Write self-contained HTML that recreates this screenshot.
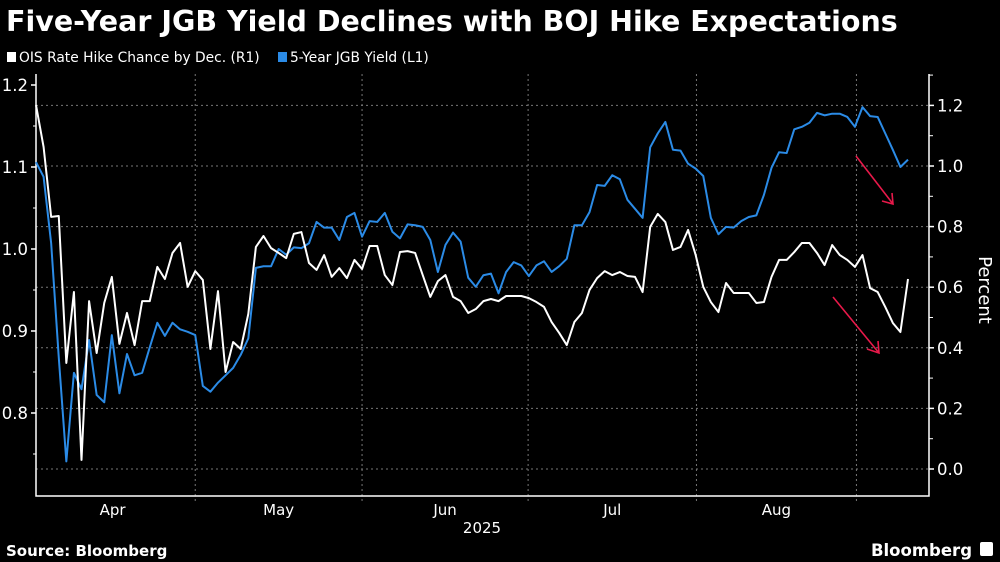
<!DOCTYPE html>
<html><head><meta charset="utf-8">
<style>
html,body{margin:0;padding:0;background:#000;}
body{width:1000px;height:562px;overflow:hidden;font-family:"Liberation Sans","DejaVu Sans",sans-serif;}
svg{display:block;}
svg text{font-family:"DejaVu Sans","Liberation Sans",sans-serif;}
</style></head>
<body>
<svg id="chart" width="1000" height="562" viewBox="0 0 1000 562" xmlns="http://www.w3.org/2000/svg">
<text x="6" y="31" fill="#fff" font-size="28.5" font-weight="bold">Five-Year JGB Yield Declines with BOJ Hike Expectations</text>
<g>
<rect x="7" y="52" width="9" height="10" fill="#fff"/>
<text x="19" y="62" fill="#fff" font-size="13.8">OIS Rate Hike Chance by Dec. (R1)</text>
<rect x="278" y="52" width="9" height="10" fill="#2b8be6"/>
<text x="290" y="62" fill="#fff" font-size="13.8">5-Year JGB Yield (L1)</text>
</g>
<g id="grid"></g>
<g id="axes"></g>
<g id="series"></g>
<text x="482" y="533" fill="#fff" font-size="15" text-anchor="middle">2025</text>
<text transform="translate(979,290) rotate(90)" fill="#fff" font-size="18" text-anchor="middle">Percent</text>
<text x="6" y="556" fill="#fff" font-size="15" font-weight="bold">Source: Bloomberg</text>
<text x="972" y="556" fill="#fff" font-size="16.5" font-weight="bold" text-anchor="end">Bloomberg</text>
<rect x="980" y="542" width="13" height="14" rx="2" fill="#fff"/>
<g stroke="#e8194a" stroke-width="1.6" fill="none">
<line x1="856" y1="156" x2="893" y2="204"/><polyline points="882,201 893,204 892,193"/>
</g>
<g stroke="#e8194a" stroke-width="1.6" fill="none">
<line x1="833" y1="297" x2="879" y2="353"/><polyline points="867,349 879,353 878,341"/>
</g>
</svg>
<script>
const months = ["Apr","May","Jun","Jul","Aug"];
const monthStartIdx = [-0.8, 21, 43, 64.9, 87.1, 108.2];
const leftTicks = [0.8, 0.9, 1.0, 1.1, 1.2];
const rightTicks = [0.0, 0.2, 0.4, 0.6, 0.8, 1.0, 1.2];
const jgbYield = [1.106,1.088,1.007,0.868,0.741,0.849,0.829,0.889,0.822,0.813,0.895,0.824,0.872,0.846,0.849,0.880,0.910,0.894,0.910,0.902,0.899,0.895,0.833,0.826,0.837,0.846,0.855,0.871,0.891,0.977,0.979,0.979,1.000,0.993,1.002,1.001,1.007,1.033,1.026,1.026,1.011,1.039,1.044,1.015,1.034,1.033,1.044,1.021,1.013,1.030,1.029,1.027,1.011,0.972,1.005,1.020,1.009,0.965,0.954,0.968,0.970,0.946,0.972,0.984,0.980,0.967,0.980,0.985,0.972,0.979,0.988,1.029,1.029,1.045,1.078,1.077,1.090,1.085,1.060,1.049,1.038,1.124,1.141,1.155,1.121,1.120,1.104,1.098,1.089,1.038,1.018,1.027,1.026,1.034,1.039,1.041,1.066,1.099,1.118,1.117,1.146,1.149,1.154,1.166,1.163,1.165,1.165,1.161,1.149,1.173,1.162,1.161,1.141,1.121,1.100,1.109];
const oisChance = [1.201,1.063,0.832,0.835,0.350,0.584,0.030,0.554,0.383,0.548,0.634,0.413,0.515,0.409,0.554,0.554,0.667,0.627,0.713,0.746,0.601,0.653,0.624,0.396,0.587,0.320,0.419,0.396,0.512,0.733,0.769,0.729,0.713,0.696,0.776,0.782,0.680,0.657,0.706,0.634,0.663,0.630,0.690,0.660,0.736,0.736,0.640,0.607,0.716,0.719,0.713,0.640,0.568,0.620,0.640,0.568,0.554,0.515,0.528,0.554,0.561,0.554,0.571,0.571,0.571,0.564,0.551,0.535,0.485,0.449,0.409,0.485,0.515,0.591,0.630,0.653,0.640,0.650,0.637,0.634,0.584,0.799,0.842,0.815,0.723,0.733,0.789,0.706,0.601,0.551,0.518,0.614,0.581,0.581,0.581,0.548,0.551,0.634,0.690,0.690,0.716,0.746,0.746,0.713,0.673,0.739,0.706,0.690,0.667,0.706,0.597,0.584,0.535,0.482,0.452,0.627];

const NS='http://www.w3.org/2000/svg';
const X0=36, X1=929, Y0=74, Y1=496;
const nPts = jgbYield.length;
function xScale(i){ return 36 + i*(872/(nPts-1)); }
function yLeft(v){ return 249 - (v-1.0)*820; }
function yRight(v){ return 469 - v*303; }
function mk(tag, attrs, parent){ const e=document.createElementNS(NS,tag); for(const k in attrs) e.setAttribute(k,attrs[k]); parent.appendChild(e); return e; }
const grid=document.getElementById('grid'), axes=document.getElementById('axes'), series=document.getElementById('series');

rightTicks.forEach(v=>{
  const y=yRight(v);
  const l=mk('line',{x1:X0,x2:X1,y1:y,y2:y,stroke:'#777','stroke-width':1,'stroke-dasharray':'2,3'},grid);
  
  
  const t=mk('line',{x1:X1,x2:X1+5,y1:y,y2:y,stroke:'#fff','stroke-width':1.5},axes);
  
  
  const tx=mk('text',{x:X1+8,y:y+6,fill:'#fff','font-size':16.5},axes);
  tx.textContent=v.toFixed(1);
  
  
});
for(let v=0.1; v<1.3; v+=0.2){
  const y=yRight(v);
  const t=mk('line',{x1:X1,x2:X1+4,y1:y,y2:y,stroke:'#fff','stroke-width':1},axes);
  
  
}
leftTicks.forEach(v=>{
  const y=yLeft(v);
  const t=mk('line',{x1:X0-5,x2:X0,y1:y,y2:y,stroke:'#fff','stroke-width':1.5},axes);
  
  
  const tx=mk('text',{x:X0-8,y:y+6,fill:'#fff','font-size':16.5,'text-anchor':'end'},axes);
  tx.textContent=v.toFixed(1);
  
  
});
for(let v=0.75; v<1.2; v+=0.1){
  const y=yLeft(v);
  const t=mk('line',{x1:X0-3,x2:X0,y1:y,y2:y,stroke:'#fff','stroke-width':1},axes);
  
  
}
monthStartIdx.forEach((idx,k)=>{
  const x=xScale(idx);
  if(k>0){
    const g=mk('line',{x1:x,x2:x,y1:Y0,y2:Y1+5,stroke:'#777','stroke-width':1,'stroke-dasharray':'2,3'},grid);
    
    
  }
  if(k<months.length){
    const cx=(x+xScale(monthStartIdx[k+1]))/2;
    const tx=mk('text',{x:cx,y:515,fill:'#fff','font-size':15,'text-anchor':'middle'},axes);
    tx.textContent=months[k];
    
    
  }
});
const ax=mk('polyline',{points:`${X0},${Y0} ${X0},${Y1} ${X1},${Y1} ${X1},${Y0}`,fill:'none',stroke:'#fff','stroke-width':1.5},axes);



const pB=mk('polyline',{points:jgbYield.map((v,i)=>xScale(i)+','+yLeft(v)).join(' '),fill:'none',stroke:'#2b8be6','stroke-width':2,'stroke-linejoin':'round'},series);


const pW=mk('polyline',{points:oisChance.map((v,i)=>xScale(i)+','+yRight(v)).join(' '),fill:'none',stroke:'#fff','stroke-width':2,'stroke-linejoin':'round'},series);


</script>
</body></html>
